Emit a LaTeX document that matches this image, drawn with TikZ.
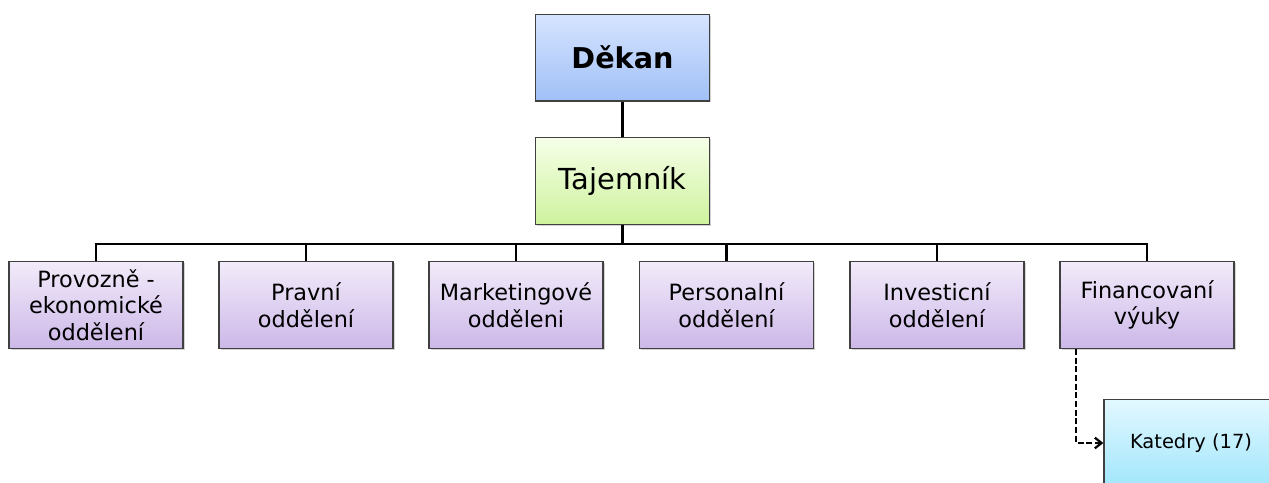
\documentclass[tikz,border=0pt]{standalone}
\usepackage{fontspec}
\setmainfont{DejaVu Sans}
\usetikzlibrary{shadows,arrows.meta}
\definecolor{dekantop}{RGB}{214,228,255}
\definecolor{dekanbot}{RGB}{160,192,246}
\definecolor{tajtop}{RGB}{246,255,232}
\definecolor{tajbot}{RGB}{206,242,158}
\definecolor{unittop}{RGB}{242,235,250}
\definecolor{unitbot}{RGB}{204,184,232}
\definecolor{kattop}{RGB}{226,248,255}
\definecolor{katbot}{RGB}{162,230,252}

\begin{document}
\begin{tikzpicture}[x=0.75pt, y=-0.75pt, line width=2pt,
    box/.style={draw=black!75, line width=1pt, minimum width=130.5pt, minimum height=65pt,
        align=center, inner sep=2pt, drop shadow={opacity=0.35, shadow xshift=1.2pt, shadow yshift=-1.2pt}},
    unit/.style={box, top color=unittop, bottom color=unitbot,
        font=\fontsize{16.8}{19.8}\selectfont}]
    \clip (0,0) rectangle (1269,482);
    \node[box, top color=dekantop, bottom color=dekanbot, font=\fontsize{21.5}{24}\selectfont\bfseries] (dekan) at (622.5,57.5) {Děkan};
    \node[box, top color=tajtop, bottom color=tajbot, font=\fontsize{21.7}{24}\selectfont] (tajemnik) at (622.5,181) {Tajemník};
    \node[unit] (provoz) at (96,305) {Provozně -\\ekonomické\\oddělení};
    \node[unit] (pravni) at (306,305) {Pravní\\oddělení};
    \node[unit] (marketing) at (516,305) {Marketingové\\odděleni};
    \node[unit] (personal) at (726.5,305) {Personalní\\oddělení};
    \node[unit] (invest) at (937,305) {Investicní\\oddělení};
    \node[unit] (financ) at (1147,305) {Financovaní\\výuky};
    \node[box, top color=kattop, bottom color=katbot, font=\fontsize{14.6}{17}\selectfont] (katedry) at (1191,443) {Katedry (17)};
    \draw (dekan) -- (tajemnik);
    \foreach \n in {provoz, pravni, marketing, personal, invest, financ}
        \draw (tajemnik.south) -- +(0,19) -| (\n.north);
    \coordinate (fk) at ([xshift=12.75pt]financ.south west);
    \draw[dash pattern=on 4.5pt off 2pt, line width=1.7pt, -{Straight Barb[length=5pt, width=8pt]}] (fk) |- (katedry.west);
\end{tikzpicture}
\end{document}
